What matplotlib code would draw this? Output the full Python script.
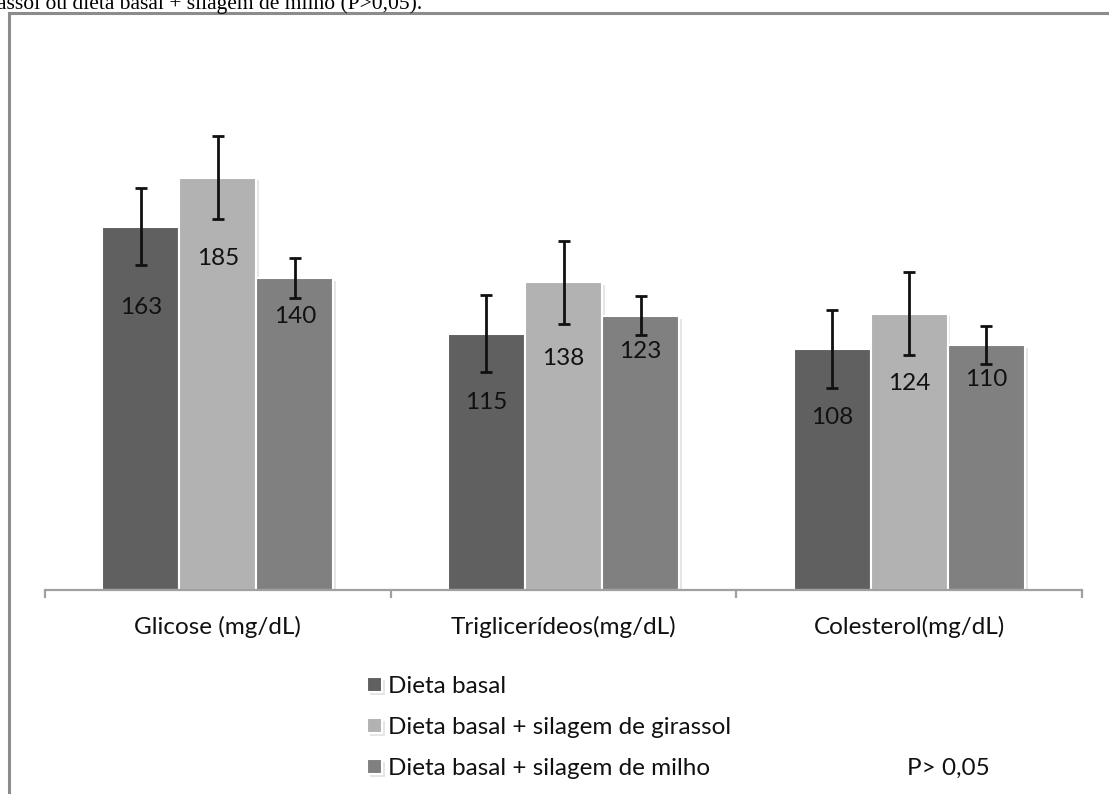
import matplotlib
matplotlib.use("Agg")
import matplotlib.pyplot as plt
import matplotlib.patheffects as pe
from matplotlib.patches import Rectangle
import numpy as np

categories = ["Glicose (mg/dL)", "Triglicerídeos(mg/dL)", "Colesterol(mg/dL)"]
series_names = ["Dieta basal", "Dieta basal + silagem de girassol", "Dieta basal + silagem de milho"]
dieta_basal = [163, 115, 108]
dieta_girassol = [185, 138, 124]
dieta_milho = [140, 123, 110]
err_basal = [17.4, 17.4, 17.6]
err_girassol = [18.7, 18.7, 18.7]
err_milho = [8.9, 8.8, 8.6]
top_text = "assol ou dieta basal + silagem de milho (P>0,05)."
p_text = "P> 0,05"

values = [dieta_basal, dieta_girassol, dieta_milho]
errors = [err_basal, err_girassol, err_milho]
colors = ["#606060", "#b2b2b2", "#808080"]
label_drop_px = [[81, 69, 68], [81, 76, 70], [39, 36, 35]]

W, H = 1109, 794
fig = plt.figure(figsize=(W / 100, H / 100), dpi=100)
FONT = "Lato"
FS = 17.5

def fx(px):
    return px / W

def fy(py):
    return 1 - py / H

# frame
fig.add_artist(Rectangle((fx(9), fy(900)), fx(1200), (900 - 13) / H, transform=fig.transFigure,
                         fill=False, edgecolor="#8c8c8c", linewidth=2.2))
fig.text(fx(-3), fy(9), top_text, family="Liberation Serif", fontsize=15.5, ha="left",
         va="baseline", color="black")

ax_left, ax_right, ax_top, ax_bot = 45, 1082, 55, 590
ax = fig.add_axes([fx(ax_left), fy(ax_bot), fx(ax_right - ax_left), (ax_bot - ax_top) / H])
ax.set_xlim(-0.5, 2.5)
ax.set_ylim(0, 240)
ax.patch.set_alpha(0)

x = np.arange(len(categories))
width = 0.223
offsets = [-width, 0, width]
shadow = [pe.SimplePatchShadow(offset=(2, -2), shadow_rgbFace="#999999", alpha=0.25), pe.Normal()]
handles = []
for i in range(3):
    bars = ax.bar(x + offsets[i], values[i], width=width, color=colors[i], edgecolor="white",
                  linewidth=1.5, zorder=2, label=series_names[i])
    for b in bars:
        b.set_path_effects(shadow)
    handles.append(bars)
    ax.errorbar(x + offsets[i], values[i], yerr=errors[i], fmt="none", ecolor="#111111",
                elinewidth=2, capsize=4, capthick=2, zorder=3)
    for j in range(3):
        ax.annotate(str(values[i][j]), (x[j] + offsets[i], values[i][j]),
                    xytext=(0, -label_drop_px[i][j] * 0.72), textcoords="offset points",
                    ha="center", va="center", fontsize=FS, family=FONT, color="#111111", zorder=4)

for s in ["left", "right", "top"]:
    ax.spines[s].set_visible(False)
ax.spines["bottom"].set_color("#a0a0a0")
ax.spines["bottom"].set_linewidth(1.6)
ax.set_yticks([])
ax.set_xticks(x)
ax.set_xticklabels(categories, family=FONT, fontsize=FS, color="#111111")
ax.tick_params(axis="x", which="major", length=0, pad=19)
ax.set_xticks([-0.5, 0.5, 1.5, 2.5], minor=True)
ax.tick_params(axis="x", which="minor", length=6, width=1.6, color="#a0a0a0")

leg = fig.legend(handles=handles, labels=series_names, loc="upper left",
                 bbox_to_anchor=(fx(355), fy(664)), bbox_transform=fig.transFigure,
                 frameon=False, prop={"family": FONT, "size": FS}, handlelength=0.6,
                 handleheight=0.6, handletextpad=0.25, labelspacing=0.82, borderpad=0)
for t in leg.get_texts():
    t.set_color("#111111")

fig.text(fx(948), fy(768), p_text, family=FONT, fontsize=FS, ha="center", va="center", color="#111111")

fig.savefig("out.png", dpi=100)
